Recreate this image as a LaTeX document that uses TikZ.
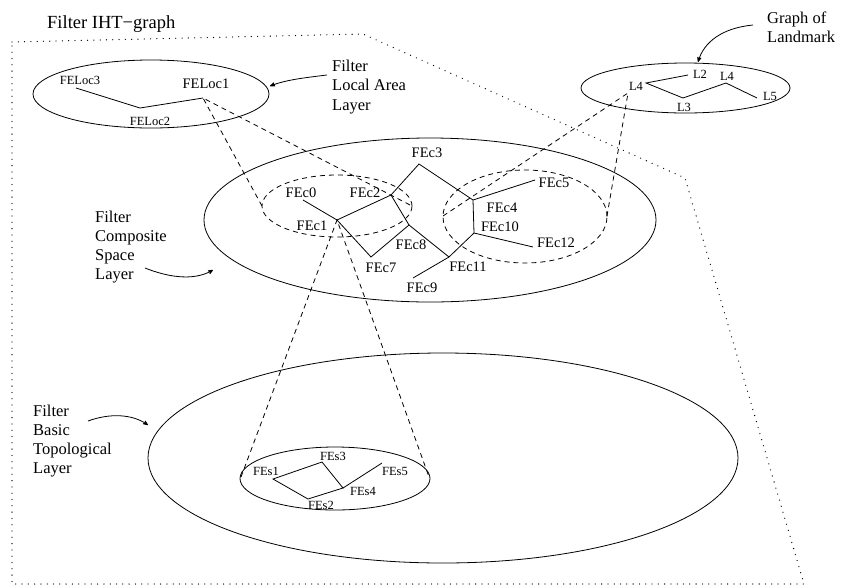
\documentclass[tikz,border=0pt]{standalone}
\usepackage{fontspec}
\setmainfont{Liberation Serif}
\usetikzlibrary{shapes,arrows}

\tikzset{
  layer/.style={font=\fontsize{16.5}{19.3}\selectfont, align=left, anchor=west, inner sep=0pt},
  cname/.style={font=\fontsize{14.5}{16}\selectfont, inner sep=0pt},
  sname/.style={font=\fontsize{12.5}{14}\selectfont, inner sep=0pt},
  edge/.style={line width=0.8pt},
  proj/.style={line width=0.8pt, dash pattern=on 5pt off 4pt},
  bound/.style={line width=1.3pt, line cap=round, dash pattern=on 0pt off 6.3pt},
  pointer/.style={line width=0.8pt, -stealth'}
}

\begin{document}
\begin{tikzpicture}[x=1pt, y=-1pt]

    \useasboundingbox (0,0) rectangle (856,587);

    % outline of the filter graph
    \coordinate (BA) at ( 12,  42);
    \coordinate (BB) at (363,  34);
    \coordinate (BC) at (685, 178);
    \coordinate (BD) at (804, 584);
    \coordinate (BE) at ( 12, 584);

    % local area layer
    \coordinate (Loc3) at ( 76,  88);
    \coordinate (Loc2) at (140, 108);
    \coordinate (Loc1) at (203,  98);

    % landmark
    \coordinate (La) at (646,  83);
    \coordinate (Lb) at (688,  75);
    \coordinate (Lc) at (683,  98);
    \coordinate (Ld) at (726,  83);
    \coordinate (Le) at (757,  98);
    \coordinate (Ltip) at (628,  93);

    % composite space layer
    \coordinate (c0)  at (303, 200);
    \coordinate (c1)  at (337, 220);
    \coordinate (c2)  at (391, 195);
    \coordinate (c3)  at (419, 164);
    \coordinate (c4)  at (473, 200);
    \coordinate (c5)  at (535, 180);
    \coordinate (c7)  at (371, 257);
    \coordinate (c8)  at (409, 225);
    \coordinate (c9)  at (413, 278);
    \coordinate (c10) at (474, 233);
    \coordinate (c11) at (449, 257);
    \coordinate (c12) at (533, 247);

    % basic topological layer
    \coordinate (s1) at (273, 479);
    \coordinate (s2) at (308, 499);
    \coordinate (s3) at (322, 462);
    \coordinate (s4) at (343, 488);
    \coordinate (s5) at (382, 463);

    % ends of the dashed regions
    \coordinate (GLl) at (262, 206);
    \coordinate (GLr) at (412, 206);
    \coordinate (GRl) at (443, 216);
    \coordinate (GRr) at (607, 216);
    \coordinate (GSl) at (241, 477);
    \coordinate (GSr) at (429, 477);

    \draw [bound] (BA) -- (BB) -- (BC) -- (BD) -- (BE) -- cycle;

    \draw [edge] (151,  94) ellipse [x radius=118pt, y radius=34pt];
    \draw [edge] (685.5, 88) ellipse [x radius=104.5pt, y radius=25pt];
    \draw [edge] (430, 220) ellipse [x radius=226pt, y radius=82pt];
    \draw [edge] (443, 458) ellipse [x radius=295pt, y radius=105pt];
    \draw [edge] (335, 478.5) ellipse [x radius=95pt, y radius=31.5pt];
    \draw [proj] (337, 206) ellipse [x radius=75pt, y radius=31pt];
    \draw [proj] (525, 216.5) ellipse [x radius=82pt, y radius=46.5pt];

    \draw [edge] (Loc3) -- (Loc2) -- (Loc1);
    \draw [edge] (Lb) -- (La) -- (Lc) -- (Ld) -- (Le);

    \draw [edge] (c0) -- (c1) -- (c2) -- (c3) -- (c4) -- (c10) -- (c11) -- (c9);
    \draw [edge] (c1) -- (c7) -- (c8) -- (c11);
    \draw [edge] (c2) -- (c8);
    \draw [edge] (c4) -- (c5);
    \draw [edge] (c10) -- (c12);

    \draw [edge] (s2) -- (s1) -- (s3) -- (s4) -- (s2);
    \draw [edge] (s4) -- (s5);

    \draw [proj] (GLl) -- (Loc1) -- (GLr);
    \draw [proj] (GRl) -- (Ltip) -- (GRr);
    \draw [proj] (GSl) -- (c1) -- (GSr);

    \node [font=\fontsize{18.5}{20}\selectfont, anchor=west, inner sep=0pt] (title) at (47, 24) {Filter IHT−graph};

    \node [layer] (tland) at (767, 27) {Graph of\\Landmark};
    \node [layer] (tloc) at (332, 87) {Filter\\Local Area\\Layer};
    \node [layer] (tcomp) at (95, 247) {Filter\\Composite\\Space\\Layer};
    \node [layer] (tbasic) at (33, 441) {Filter\\Basic\\Topological\\Layer};

    \coordinate (pland) at (753, 25);
    \coordinate (ploc) at (327, 75);
    \coordinate (pcomp) at (145, 268);
    \coordinate (pbasic) at (88, 421);

    \draw [pointer] (pland) .. controls (722, 28) and (704, 42) .. (698, 62);
    \draw [pointer] (ploc) .. controls (302, 78) and (286, 80) .. (270, 86);
    \draw [pointer] (pcomp) .. controls (165, 276) and (192, 282) .. (213, 270);
    \draw [pointer] (pbasic) .. controls (110, 413) and (132, 414) .. (148, 425);

    \node [sname] (tLoc3) at ( 80,  80) {FELoc3};
    \node [sname] (tLoc2) at (150, 121) {FELoc2};
    \node [cname] (tLoc1) at (206,  84) {FELoc1};

    \node [sname] (tLa) at (636,  86) {L4};
    \node [sname] (tLb) at (700,  74) {L2};
    \node [sname] (tLc) at (684, 107) {L3};
    \node [sname] (tLd) at (727,  76) {L4};
    \node [sname] (tLe) at (770,  96) {L5};

    \node [cname] (tc0)  at (301, 193) {FEc0};
    \node [cname] (tc1)  at (312, 226) {FEc1};
    \node [cname] (tc2)  at (365, 193) {FEc2};
    \node [cname] (tc3)  at (427, 153) {FEc3};
    \node [cname] (tc4)  at (502, 208) {FEc4};
    \node [cname] (tc5)  at (554, 183) {FEc5};
    \node [cname] (tc7)  at (381, 268) {FEc7};
    \node [cname] (tc8)  at (411, 245) {FEc8};
    \node [cname] (tc9)  at (422, 288) {FEc9};
    \node [cname] (tc10) at (500, 227) {FEc10};
    \node [cname] (tc11) at (468, 267) {FEc11};
    \node [cname] (tc12) at (556, 243) {FEc12};

    \node [sname] (ts1) at (266, 471) {FEs1};
    \node [sname] (ts2) at (321, 505) {FEs2};
    \node [sname] (ts3) at (333, 456) {FEs3};
    \node [sname] (ts4) at (363, 491) {FEs4};
    \node [sname] (ts5) at (395, 471) {FEs5};

\end{tikzpicture}
\end{document}
